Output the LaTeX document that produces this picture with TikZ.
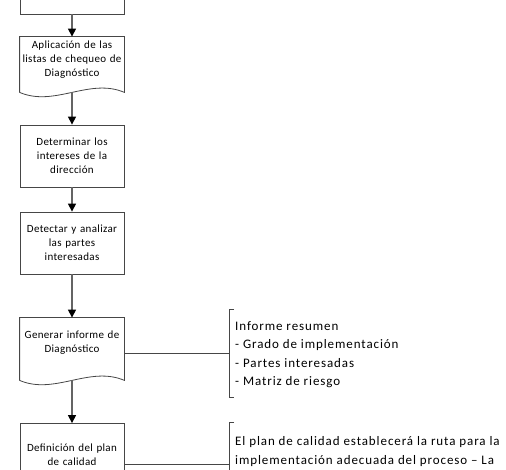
\documentclass[tikz,border=0pt]{standalone}
\usepackage{fontspec}
\setmainfont{Carlito}
\newfontfamily\boxfont[LetterSpace=3]{Carlito}
\newfontfamily\notefont[LetterSpace=7]{Carlito}
\usetikzlibrary{arrows.meta, positioning, calc}
\definecolor{framegray}{RGB}{70,70,70}
\definecolor{flowgray}{RGB}{100,100,100}

% outline of a document shape round a node, wave #2 below its south side
\newcommand{\docoutline}[2]{%
  \coordinate (#1-w) at ($(#1.south)+(0,#2)$);
  \draw[framegray, line width=0.8pt] ($(#1.south west)+(0,#2)$) -- (#1.north west) -- (#1.north east) -- ($(#1.south east)+(0,#2)$)
    .. controls +(-35,-15) and +(35,15) .. ($(#1.south west)+(0,#2)$);
}

\begin{document}
\begin{tikzpicture}[x=1pt, y=-1pt,
  box/.style={draw=framegray, line width=0.8pt, minimum width=104pt, minimum height=62pt, text width=104pt, align=center, inner sep=0pt, font=\boxfont\fontsize{11}{14}\selectfont},
  docbox/.style={box, draw=none},
  flow/.style={draw=flowgray, line width=1.3pt, -{Triangle[length=8pt, width=8pt, color=black]}},
  link/.style={draw=framegray, line width=1pt},
  note/.style={align=left, inner sep=0pt, font=\notefont\fontsize{13}{18.5}\selectfont}
]
  \clip (0,0) rectangle (506,470);

  % flow column
  \node[box] (req) at (72,-17) {\mbox{}\\\mbox{}\\[3pt]legales aplicables};
  \node[docbox, minimum height=46pt] (aplica) at (72,60) {Aplicación de las\\listas de chequeo de\\Diagnóstico};
  \docoutline{aplica}{9}
  \node[box] (interes) at (72,156) {Determinar los\\intereses de la\\dirección};
  \node[box] (partes) at (72,243) {Detectar y analizar\\las partes\\interesadas};
  \node[docbox, minimum height=49pt] (informe) at (72,342.5) {Generar informe de\\Diagnóstico};
  \docoutline{informe}{13}
  \node[box] (calidad) at (72,454.5) {Definición del plan\\de calidad};

  \draw[flow] (req) -- (aplica);
  \draw[flow] (aplica-w) -- (interes);
  \draw[flow] (interes) -- (partes);
  \draw[flow] (partes) -- (informe);
  \draw[flow] (informe-w) -- (calidad);

  % notes with brackets
  \node[note, anchor=west] (resumen) at (235,354.5) {Informe resumen\\- Grado de implementación\\- Partes interesadas\\- Matriz de riesgo};
  \coordinate (br1) at (229,353);
  \draw[link] ($(br1)+(5,-43)$) -- ($(br1)+(0,-43)$) -- ($(br1)+(0,44)$) -- ($(br1)+(5,44)$);
  \draw[link] (informe.east |- br1) -- (br1);

  \node[note, anchor=north west] (plantxt) at (235,436.5) {El plan de calidad establecerá la ruta para la\\implementación adecuada del proceso – La};
  \coordinate (br2) at (229,464);
  \draw[link] ($(br2)+(5,-42)$) -- ($(br2)+(0,-42)$) -- ($(br2)+(0,44)$);
  \draw[link] (calidad.east |- br2) -- (br2);
\end{tikzpicture}
\end{document}
